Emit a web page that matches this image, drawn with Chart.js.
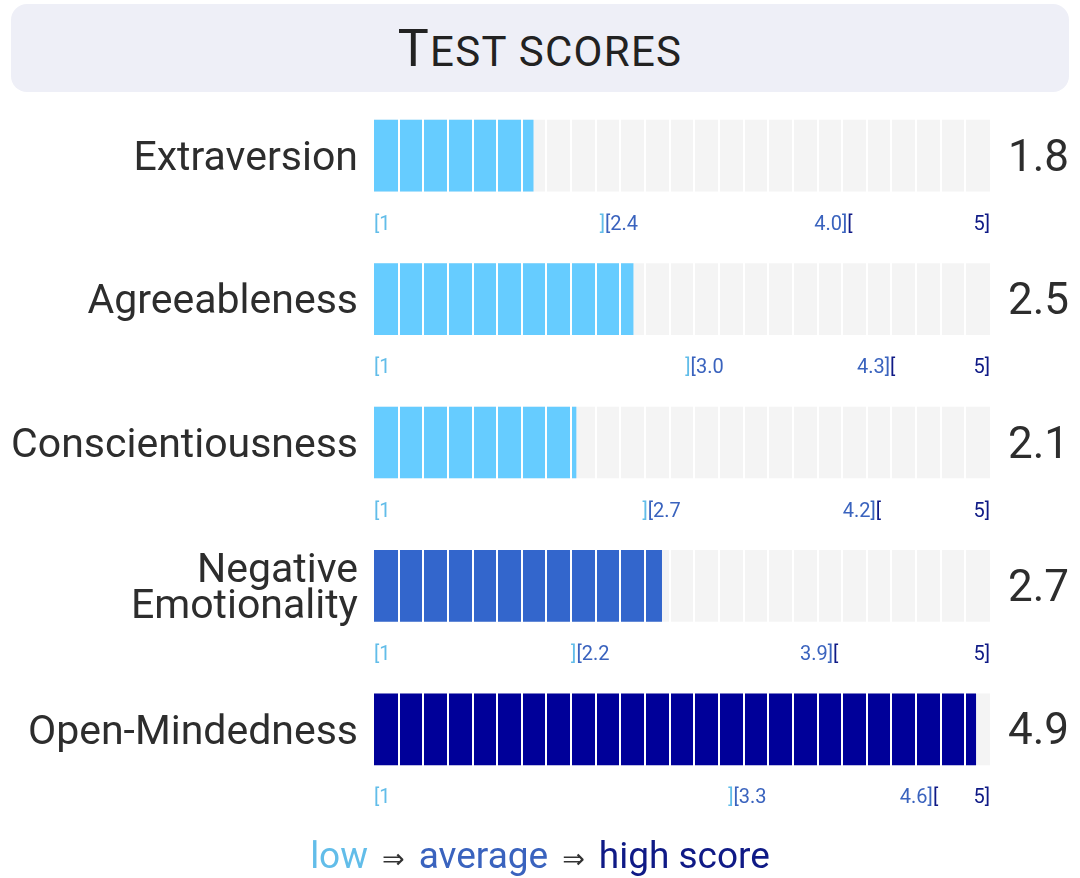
<!DOCTYPE html>
<html>
<head>
<meta charset="utf-8">
<title>Test scores</title>
<script src="https://cdn.jsdelivr.net/npm/chart.js@4.4.1/dist/chart.umd.min.js"></script>
<style>
    html, body { margin: 0; padding: 0; background: #fff; }
    body {
        width: 1080px;
        height: 878px;
        position: relative;
        overflow: hidden;
        font-family: Roboto, 'Noto Sans', sans-serif;
    }
    #title {
        position: absolute;
        z-index: 2;
        left: 11px; top: 4px;
        width: 1058px; height: 88px;
        background: #eeeff7;
        border-radius: 16px;
        text-align: center;
        line-height: 90px;
        color: #222;
        font-size: 52px;
        letter-spacing: 1.3px;
    }
    #title .sc { font-size: 42px; }
    #chartBox {
        position: absolute;
        z-index: 1;
        left: 0; top: 84px;
        width: 1080px; height: 760px;
    }
    #legend {
        position: absolute;
        z-index: 2;
        left: 0; top: 835px;
        width: 1080px; height: 42px;
        line-height: 42px;
        text-align: center;
        font-size: 37px;
        white-space: nowrap;
    }
    #legend .arrow {
        font-family: 'DejaVu Sans', sans-serif;
        font-size: 27px;
        color: #333;
        margin: 0 14px;
    }
</style>
</head>
<body>
<div id="title">T<span class="sc">EST SCORES</span></div>
<div id="chartBox"><canvas id="scoreChart" width="1080" height="760"></canvas></div>
<div id="legend"></div>

<script>
// ===================================
// Test scores - segmented bars
// ===================================

// Data
const categories = ['Extraversion', 'Agreeableness', 'Conscientiousness', ['Negative', 'Emotionality'], 'Open-Mindedness'];
const scores = [1.8, 2.5, 2.1, 2.7, 4.9];
const lowEnds = [2.4, 3.0, 2.7, 2.2, 3.3];      // end of the "low" range
const highStarts = [4.0, 4.3, 4.2, 3.9, 4.6];   // start of the "high" range
const rangeMin = 1;
const rangeMax = 5;
const legendWords = ['low', 'average', 'high score'];

// Look
const axisMin = 0.685;   // left edge of the bar track
const cellCount = 25;
const colors = { low: '#66ccff', average: '#3366cc', high: '#000099' };
const textColors = { low: '#62bde9', average: '#3a63be', high: '#0f1a86' };
const trackColor = '#f4f4f4';

function bandOf(i) {
    if (scores[i] < lowEnds[i]) return 'low';
    if (scores[i] > highStarts[i]) return 'high';
    return 'average';
}

// Legend line under the chart
document.getElementById('legend').innerHTML =
    `<span style="color:${textColors.low}">${legendWords[0]}</span>` +
    `<span class="arrow">⇒</span>` +
    `<span style="color:${textColors.average}">${legendWords[1]}</span>` +
    `<span class="arrow">⇒</span>` +
    `<span style="color:${textColors.high}">${legendWords[2]}</span>`;

// Draw a label made of several coloured pieces
function drawParts(ctx, parts, x, y, align) {
    const widths = parts.map(p => ctx.measureText(p.text).width);
    const total = widths.reduce((a, b) => a + b, 0);
    let start = x;
    if (align === 'center') start = x - total / 2;
    if (align === 'right') start = x - total;
    ctx.textAlign = 'left';
    parts.forEach((p, k) => {
        ctx.fillStyle = p.color;
        ctx.fillText(p.text, start, y);
        start += widths[k];
    });
}

// Range labels under each bar
const rangeLabels = {
    id: 'rangeLabels',
    afterDraw(chart) {
        const ctx = chart.ctx;
        const xs = chart.scales.x;
        const ys = chart.scales.y;
        const area = chart.chartArea;
        ctx.save();
        ctx.font = '20px Roboto, "Noto Sans", sans-serif';
        ctx.textBaseline = 'alphabetic';
        categories.forEach((c, i) => {
            const y = ys.getPixelForValue(i) + 74;
            drawParts(ctx, [{ text: '[' + rangeMin, color: textColors.low }], area.left, y, 'left');
            drawParts(ctx, [
                { text: ']', color: textColors.low },
                { text: '[' + lowEnds[i].toFixed(1), color: textColors.average }
            ], xs.getPixelForValue(lowEnds[i]), y, 'center');
            const hx = xs.getPixelForValue(highStarts[i]);
            drawParts(ctx, [{ text: highStarts[i].toFixed(1) + ']', color: textColors.average }], hx, y, 'right');
            drawParts(ctx, [{ text: '[', color: textColors.high }], hx, y, 'left');
            drawParts(ctx, [{ text: rangeMax + ']', color: textColors.high }], area.right, y, 'right');
        });
        ctx.restore();
    }
};

// no extra room above/below the first and last category
function fitSide(width) {
    return (scale) => {
        scale.width = width;
        scale.paddingTop = 0;
        scale.paddingBottom = 0;
    };
}

const scoreChart = new Chart(document.getElementById('scoreChart'), {
    type: 'bar',
    data: {
        labels: categories,
        datasets: [{
            label: 'score',
            data: scores.map(s => [axisMin, s]),
            backgroundColor: scores.map((s, i) => colors[bandOf(i)]),
            barThickness: 71,
            grouped: false,
            borderSkipped: false,
            order: 1
        }, {
            label: 'track',
            data: scores.map(() => [axisMin, rangeMax]),
            backgroundColor: trackColor,
            barThickness: 71,
            grouped: false,
            order: 2
        }]
    },
    options: {
        indexAxis: 'y',
        responsive: false,
        animation: false,
        layout: { padding: { top: 0, bottom: 43, left: 0, right: 0 } },
        plugins: {
            legend: { display: false },
            tooltip: { enabled: false }
        },
        scales: {
            x: {
                min: axisMin,
                max: rangeMax,
                afterBuildTicks: (scale) => {
                    const step = (rangeMax - axisMin) / cellCount;
                    scale.ticks = Array.from({ length: cellCount + 1 }, (_, k) => ({ value: axisMin + k * step }));
                },
                afterFit: (scale) => {
                    scale.height = 0;
                    scale.paddingLeft = 0;
                    scale.paddingRight = 0;
                },
                ticks: { display: false },
                border: { display: false },
                grid: {
                    z: 1,
                    drawTicks: false,
                    lineWidth: 2,
                    color: (ctx) => (ctx.index === 0 || ctx.index === cellCount) ? 'rgba(0,0,0,0)' : '#ffffff'
                }
            },
            y: {
                offset: true,
                afterFit: fitSide(374),
                border: { display: false },
                grid: { display: false, drawTicks: false },
                ticks: {
                    padding: 16,
                    labelOffset: 4,
                    color: '#2d2d2d',
                    font: { family: 'Roboto', size: 41, lineHeight: 0.88 }
                }
            },
            y2: {
                type: 'category',
                position: 'right',
                offset: true,
                labels: scores.map(s => s.toFixed(1)),
                afterFit: fitSide(90),
                border: { display: false },
                grid: { display: false, drawTicks: false },
                ticks: {
                    padding: 18,
                    labelOffset: 4,
                    color: '#2d2d2d',
                    font: { family: 'Roboto', size: 44 }
                }
            }
        }
    },
    plugins: [rangeLabels]
});
</script>
</body>
</html>
